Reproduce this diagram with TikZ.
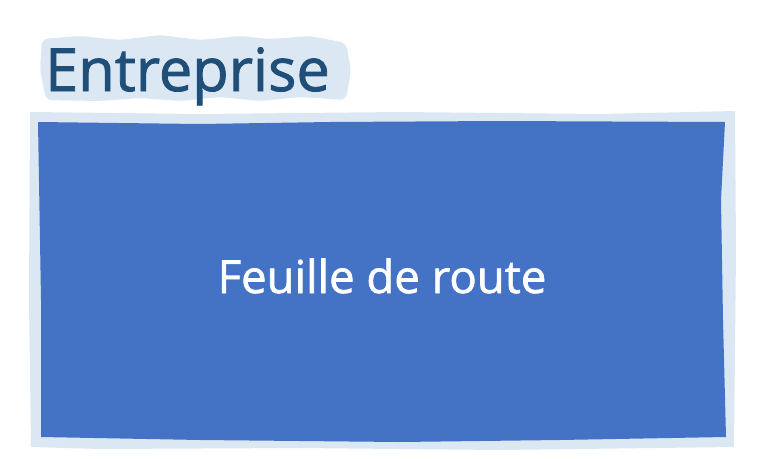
\documentclass[tikz,border=0pt]{standalone}
\usepackage{fontspec}
\setmainfont{Open Sans}
\newfontfamily\medfont{Open Sans}[FakeBold=1.4]
\definecolor{titleblue}{HTML}{1F4E79}
\definecolor{boxblue}{HTML}{4472C4}
\definecolor{edgeblue}{HTML}{DCE7F4}
\begin{document}
\begin{tikzpicture}[x=1pt,y=-1pt,
  titletext/.style={font=\medfont\fontsize{59.5}{60}\selectfont, text=titleblue, inner sep=0pt, anchor=base west},
  boxtext/.style={font=\medfont\fontsize{45.5}{46}\selectfont, text=white, inner sep=0pt, anchor=base}]
\useasboundingbox (0,0) rectangle (770,458);
% title highlight
\fill[edgeblue, rounded corners=6pt] (42,39) -- (80,36) -- (120,40) -- (160,35) -- (200,40) -- (240,36) -- (270,39) -- (310,36) -- (346,43) -- (351,70) -- (346,100) -- (300,97) -- (260,101) -- (220,97) -- (180,101) -- (140,98) -- (100,101) -- (46,100) -- (40,70) -- cycle;
\node[titletext] (title) at (45,91) {Entreprise};
% outer border
\fill[edgeblue] (30,112) -- (200,114) -- (400,112) -- (600,114) -- (735,111) -- (736,250) -- (734,447) -- (500,450) -- (300,448) -- (100,449) -- (31,447) -- (29,300) -- cycle;
% inner box
\fill[boxblue] (38,122) -- (200,124) -- (330,122) -- (500,121) -- (725,122) -- (721,200) -- (723,320) -- (726,437) -- (560,440) -- (400,442) -- (200,440) -- (41,437) -- (41,300) -- cycle;
\node[boxtext] (label) at (382,293) {Feuille de route};
\end{tikzpicture}
\end{document}
